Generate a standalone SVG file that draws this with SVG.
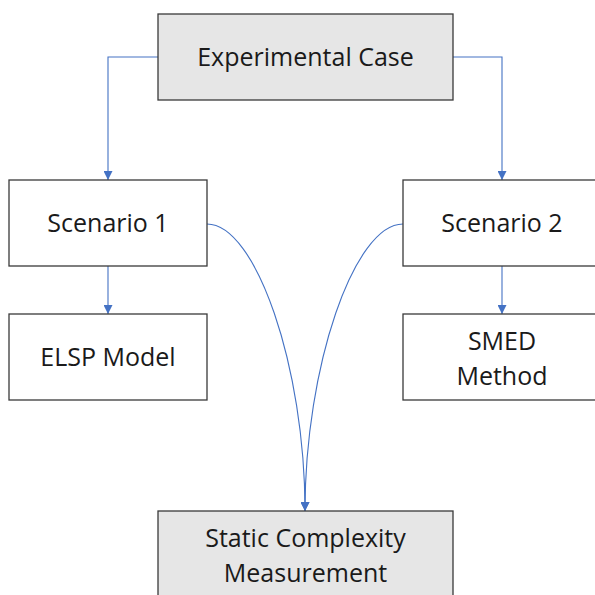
<svg xmlns="http://www.w3.org/2000/svg" width="595" height="595" viewBox="0 0 595 595">
<style>
.box{stroke:#3a3a3a;stroke-width:1.3}
.w{fill:#ffffff}
.g{fill:#e6e6e6}
text{font-family:"Open Sans","Liberation Sans",sans-serif;font-size:25px;fill:#1a1a1a;text-anchor:middle}
.c{fill:none;stroke:#4472c4;stroke-width:1.1}
</style>
<defs>
<marker id="ah" viewBox="0 0 10 10" refX="10" refY="5" markerWidth="9" markerHeight="9" markerUnits="userSpaceOnUse" orient="auto">
<path d="M0,0 L10,5 L0,10 Z" fill="#4472c4"/>
</marker>
</defs>
<rect width="595" height="595" fill="#ffffff"/>
<g id="connectors">
<path class="c" d="M158,57 H108 V180" marker-end="url(#ah)"/>
<path class="c" d="M453,57 H502 V180" marker-end="url(#ah)"/>
<path class="c" d="M108,266 V314" marker-end="url(#ah)"/>
<path class="c" d="M502,266 V314" marker-end="url(#ah)"/>
<path class="c" d="M207,224 C256,224 305,367 305,511" marker-end="url(#ah)"/>
<path class="c" d="M403,224 C354,224 305,367 305,511" marker-end="url(#ah)"/>
</g>
<g id="experimental-case">
<rect class="box g" x="158" y="14" width="295" height="86"/>
<text x="305.5" y="66">Experimental Case</text>
</g>
<g id="scenario-1">
<rect class="box w" x="9" y="180" width="198" height="86"/>
<text x="108" y="232">Scenario 1</text>
</g>
<g id="scenario-2">
<rect class="box w" x="403" y="180" width="198" height="86"/>
<text x="502" y="232">Scenario 2</text>
</g>
<g id="elsp-model">
<rect class="box w" x="9" y="314" width="198" height="86"/>
<text x="108" y="366">ELSP Model</text>
</g>
<g id="smed-method">
<rect class="box w" x="403" y="314" width="198" height="86"/>
<text x="502" y="350">SMED</text>
<text x="502" y="385">Method</text>
</g>
<g id="static-complexity">
<rect class="box g" x="158" y="511" width="295" height="90"/>
<text x="305.5" y="547">Static Complexity</text>
<text x="305.5" y="582">Measurement</text>
</g>
</svg>
